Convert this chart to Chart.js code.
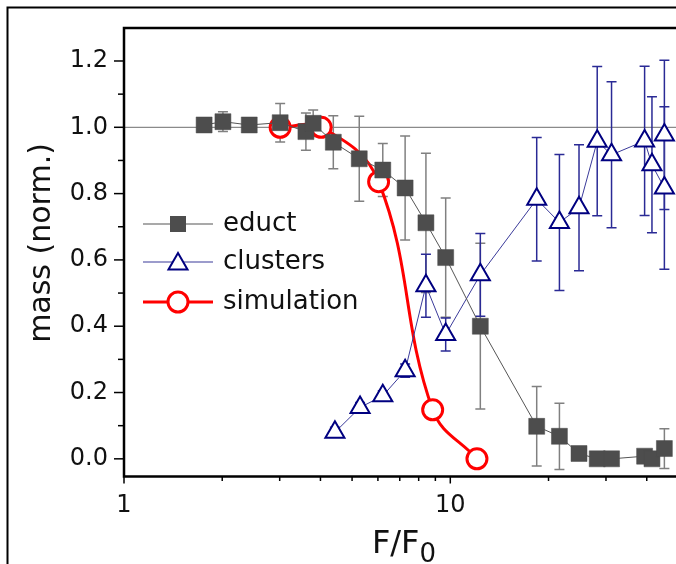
<!DOCTYPE html>
<html><head><meta charset="utf-8">
<script src="https://cdn.jsdelivr.net/npm/chart.js@4"></script>
<style>html,body{margin:0;padding:0;background:#fff;overflow:hidden}</style>
</head><body>
<canvas id="c" width="676" height="564"></canvas>
<script>
// ---- data ----
const eductX = [1.76, 2.01, 2.42, 3.01, 3.61, 3.80, 4.38, 5.26, 6.21, 7.27, 8.42, 9.68, 12.36, 18.4, 21.6, 24.8, 28.2, 31.2, 39.4, 41.5, 45.3];
const eductY = [1.007, 1.017, 1.007, 1.014, 0.987, 1.012, 0.955, 0.905, 0.871, 0.817, 0.712, 0.607, 0.400, 0.098, 0.068, 0.016, 0.0, 0.0, 0.008, 0.0, 0.031];
const eductErr = [0, 0.03, 0, 0.058, 0.056, 0.04, 0.08, 0.128, 0.08, 0.157, 0.21, 0.18, 0.25, 0.12, 0.10, 0.02, 0, 0, 0, 0, 0.06];

const clusterX = [4.43, 5.29, 6.21, 7.27, 8.42, 9.68, 12.36, 18.4, 21.6, 24.8, 28.2, 31.2, 39.4, 41.5, 45.3, 45.3];
const clusterY = [0.080, 0.155, 0.190, 0.266, 0.522, 0.375, 0.555, 0.783, 0.713, 0.757, 0.958, 0.917, 0.959, 0.887, 0.817, 0.977];
const clusterErr = [0.015, 0.015, 0.015, 0.02, 0.095, 0.05, 0.125, 0.186, 0.205, 0.19, 0.225, 0.22, 0.225, 0.205, 0.245, 0.225];

const simX = [3.01, 4.02, 6.03, 8.83, 12.07];
const simY = [1.0, 1.0, 0.836, 0.148, 0.0];

const seriesNames = ['educt', 'clusters', 'simulation'];
const xTickValues = [1, 2, 3, 4, 5, 6, 7, 8, 9, 10, 20, 30, 40];
const xTickLabels = ['1', '', '', '', '', '', '', '', '', '10', '', '', ''];
const yTickValues = [0, 0.1, 0.2, 0.3, 0.4, 0.5, 0.6, 0.7, 0.8, 0.9, 1.0, 1.1, 1.2];
const yTickLabels = ['0.0', '', '0.2', '', '0.4', '', '0.6', '', '0.8', '', '1.0', '', '1.2'];
const xTitleMain = 'F/F';
const xTitleSub = '0';
const yTitle = 'mass (norm.)';
const refLineY = 1.0;

// ---- styles ----
const FONT = 'DejaVu Sans';
const C_EDUCT = '#4d4d4d', C_CLU = '#000080', C_SIM = '#ff0000';

const pts = (xs, ys) => xs.map((x, i) => ({ x: x, y: ys[i] }));

const decorPlugin = {
  id: 'decor',
  beforeDatasetsDraw(chart) {
    const ctx = chart.ctx, a = chart.chartArea;
    const xs = chart.scales.x, ys = chart.scales.y;
    ctx.save();
    ctx.beginPath(); ctx.rect(a.left, a.top, a.right - a.left, a.bottom - a.top); ctx.clip();
    const yr = ys.getPixelForValue(refLineY);
    ctx.strokeStyle = '#8a8a8a'; ctx.lineWidth = 1.2;
    ctx.beginPath(); ctx.moveTo(a.left, yr); ctx.lineTo(a.right, yr); ctx.stroke();
    const bars = (X, Y, E, color) => {
      ctx.strokeStyle = color; ctx.lineWidth = 1.5;
      X.forEach((x, i) => {
        if (!E[i]) return;
        const px = xs.getPixelForValue(x);
        const t = ys.getPixelForValue(Y[i] + E[i]);
        const b = ys.getPixelForValue(Y[i] - E[i]);
        ctx.beginPath();
        ctx.moveTo(px, t); ctx.lineTo(px, b);
        ctx.moveTo(px - 5, t); ctx.lineTo(px + 5, t);
        ctx.moveTo(px - 5, b); ctx.lineTo(px + 5, b);
        ctx.stroke();
      });
    };
    bars(eductX, eductY, eductErr, '#808080');
    bars(clusterX, clusterY, clusterErr, '#2a2a95');
    ctx.restore();
  },
  afterDatasetsDraw(chart) {
    const ctx = chart.ctx;
    ctx.save();
    const rows = [224, 262, 302];
    const x1 = 143, x2 = 213, xm = 178, xt = 223;
    ctx.strokeStyle = '#555'; ctx.lineWidth = 1.2;
    ctx.beginPath(); ctx.moveTo(x1, rows[0]); ctx.lineTo(x2, rows[0]); ctx.stroke();
    ctx.fillStyle = C_EDUCT; ctx.fillRect(xm - 8, rows[0] - 8, 16, 16);
    ctx.strokeStyle = '#3a3a9a'; ctx.lineWidth = 1.2;
    ctx.beginPath(); ctx.moveTo(x1, rows[1]); ctx.lineTo(x2, rows[1]); ctx.stroke();
    const r = 11, cy = rows[1] + 2;
    ctx.beginPath();
    ctx.moveTo(xm, cy - r);
    ctx.lineTo(xm + r * Math.sin(2 * Math.PI / 3), cy + r / 2);
    ctx.lineTo(xm - r * Math.sin(2 * Math.PI / 3), cy + r / 2);
    ctx.closePath();
    ctx.fillStyle = '#fff'; ctx.fill();
    ctx.strokeStyle = C_CLU; ctx.lineWidth = 2; ctx.stroke();
    ctx.strokeStyle = C_SIM; ctx.lineWidth = 3;
    ctx.beginPath(); ctx.moveTo(x1, rows[2]); ctx.lineTo(x2, rows[2]); ctx.stroke();
    ctx.beginPath(); ctx.arc(xm, rows[2], 10, 0, Math.PI * 2);
    ctx.fillStyle = '#fff'; ctx.fill(); ctx.stroke();
    ctx.fillStyle = '#111';
    ctx.font = '26px "' + FONT + '"';
    ctx.textAlign = 'left'; ctx.textBaseline = 'middle';
    seriesNames.forEach((n, i) => ctx.fillText(n, xt, rows[i]));
    ctx.restore();
  },
  afterDraw(chart) {
    const ctx = chart.ctx, a = chart.chartArea;
    const xs = chart.scales.x, ys = chart.scales.y;
    ctx.save();
    ctx.strokeStyle = '#000'; ctx.lineWidth = 2;
    ctx.beginPath(); ctx.moveTo(7.5, 564); ctx.lineTo(7.5, 7.5); ctx.lineTo(676, 7.5); ctx.stroke();
    ctx.lineWidth = 2.5;
    ctx.beginPath();
    ctx.moveTo(a.right, a.top); ctx.lineTo(a.left, a.top); ctx.lineTo(a.left, a.bottom); ctx.lineTo(a.right, a.bottom);
    ctx.stroke();
    ctx.lineWidth = 1.5;
    xTickValues.forEach((v, i) => {
      const px = xs.getPixelForValue(v);
      const len = xTickLabels[i] ? 7 : 4.5;
      ctx.beginPath(); ctx.moveTo(px, a.bottom); ctx.lineTo(px, a.bottom + len); ctx.stroke();
    });
    yTickValues.forEach((v, i) => {
      const py = ys.getPixelForValue(v);
      const len = yTickLabels[i] ? 10 : 6;
      ctx.beginPath(); ctx.moveTo(a.left, py); ctx.lineTo(a.left - len, py); ctx.stroke();
    });
    ctx.fillStyle = '#111';
    ctx.font = '30px "' + FONT + '"';
    ctx.textAlign = 'center'; ctx.textBaseline = 'middle';
    ctx.save();
    ctx.translate(42, 243); ctx.rotate(-Math.PI / 2);
    ctx.fillText(yTitle, 0, 0);
    ctx.restore();
    ctx.textAlign = 'left'; ctx.textBaseline = 'alphabetic';
    ctx.font = '32px "' + FONT + '"';
    const wMain = ctx.measureText(xTitleMain).width;
    ctx.font = '26px "' + FONT + '"';
    const wSub = ctx.measureText(xTitleSub).width;
    const x0 = (a.left + a.right) / 2 - (wMain + wSub) / 2 + 4;
    ctx.font = '32px "' + FONT + '"';
    ctx.fillText(xTitleMain, x0, 553);
    ctx.font = '26px "' + FONT + '"';
    ctx.fillText(xTitleSub, x0 + wMain, 562);
    ctx.restore();
  }
};

new Chart(document.getElementById('c'), {
  type: 'line',
  data: {
    datasets: [
      {
        label: seriesNames[0], data: pts(eductX, eductY),
        borderColor: '#555', borderWidth: 1, tension: 0,
        pointStyle: 'rect', pointRadius: 11.3, pointBorderWidth: 0.5,
        pointBackgroundColor: C_EDUCT, pointBorderColor: C_EDUCT
      },
      {
        label: seriesNames[1], data: pts(clusterX, clusterY),
        borderColor: '#3a3a9a', borderWidth: 1, tension: 0,
        pointStyle: 'triangle', pointRadius: 11, pointBorderWidth: 2,
        pointBackgroundColor: '#fff', pointBorderColor: C_CLU
      },
      {
        label: seriesNames[2], data: pts(simX, simY),
        borderColor: C_SIM, borderWidth: 3, tension: 0.4,
        pointStyle: 'circle', pointRadius: 10, pointBorderWidth: 3,
        pointBackgroundColor: '#fff', pointBorderColor: C_SIM
      }
    ]
  },
  options: {
    responsive: false, animation: false, devicePixelRatio: 1,
    layout: { autoPadding: false, padding: { top: 28, left: 0, right: 0, bottom: 0 } },
    plugins: { legend: { display: false }, tooltip: { enabled: false } },
    scales: {
      x: {
        type: 'logarithmic', min: 1, max: 49.17,
        afterBuildTicks: (s) => { s.ticks = xTickValues.map(v => ({ value: v })); },
        afterFit: (s) => { s.height = 87.5; s.paddingLeft = 0; s.paddingRight = 0; },
        grid: { drawOnChartArea: false, drawTicks: true, tickLength: 7, tickColor: 'rgba(0,0,0,0)' },
        border: { display: false },
        ticks: {
          autoSkip: false, maxRotation: 0, padding: 8, color: '#111',
          font: { family: FONT, size: 24 },
          callback: (v, i) => xTickLabels[i]
        }
      },
      y: {
        type: 'linear', min: -0.0533, max: 1.2995,
        afterBuildTicks: (s) => { s.ticks = yTickValues.map(v => ({ value: v })); },
        afterFit: (s) => { s.width = 124; s.paddingTop = 0; s.paddingBottom = 0; },
        grid: { drawOnChartArea: false, drawTicks: true, tickLength: 10, tickColor: 'rgba(0,0,0,0)' },
        border: { display: false },
        ticks: {
          autoSkip: false, padding: 6, color: '#111',
          font: { family: FONT, size: 24 },
          callback: (v, i) => yTickLabels[i]
        }
      }
    }
  },
  plugins: [decorPlugin]
});
</script>
</body></html>
